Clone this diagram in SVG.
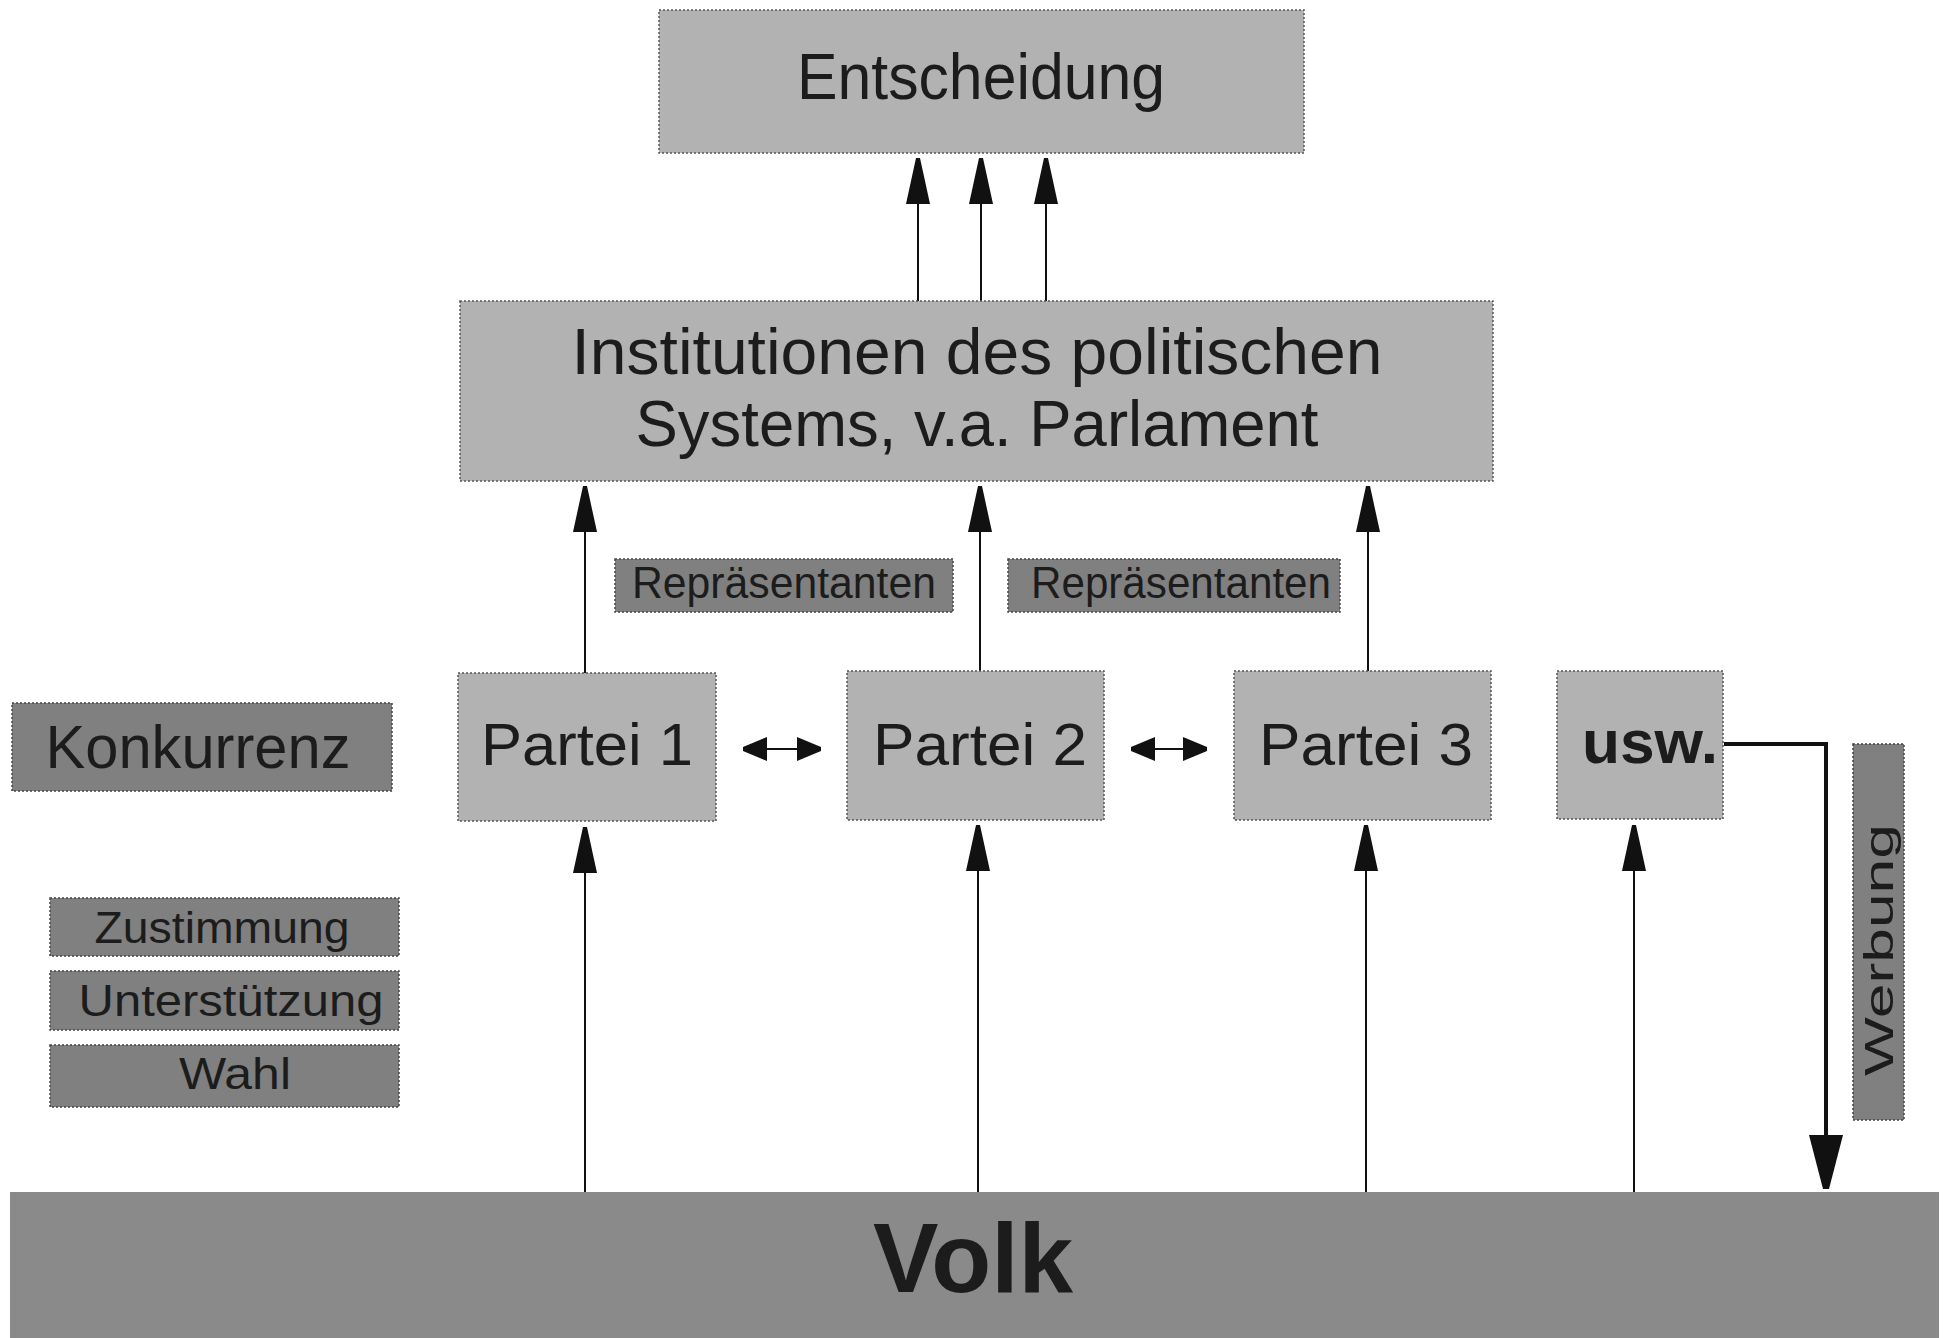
<svg xmlns="http://www.w3.org/2000/svg" width="1945" height="1338" viewBox="0 0 1945 1338">
  <style>
    .light { fill: #b2b2b2; stroke: #555; stroke-width: 1.5; stroke-dasharray: 2 2; }
    .dark { fill: #808080; stroke: #444; stroke-width: 1.5; stroke-dasharray: 2 2; }
    .volk { fill: #8a8a8a; }
    .t { font-family: "Liberation Sans", Arial, sans-serif; fill: #1c1c1c; text-anchor: middle; }
    .b { font-weight: bold; }
    .ln { stroke: #111; stroke-width: 2; fill: none; }
    .lnb { stroke: #111; stroke-width: 4; fill: none; }
  </style>
  <defs>
    <marker id="arr" viewBox="0 0 46 24" refX="46" refY="12" markerWidth="46" markerHeight="24" markerUnits="userSpaceOnUse" orient="auto">
      <path d="M0,0 L46,10 L46,14 L0,24 Z" fill="#111"/>
    </marker>
    <marker id="arrs" viewBox="0 0 24 24" refX="24" refY="12" markerWidth="24" markerHeight="24" markerUnits="userSpaceOnUse" orient="auto-start-reverse">
      <path d="M0,0 L24,10 L24,14 L0,24 Z" fill="#111"/>
    </marker>
    <marker id="arrb" viewBox="0 0 54 34" refX="54" refY="17" markerWidth="54" markerHeight="34" markerUnits="userSpaceOnUse" orient="auto">
      <path d="M0,0 L54,14 L54,20 L0,34 Z" fill="#111"/>
    </marker>
  </defs>
  <rect width="1945" height="1338" fill="#ffffff"/>

  <g id="connectors">
    <line class="ln" x1="918" y1="302" x2="918" y2="158" marker-end="url(#arr)"/>
    <line class="ln" x1="981" y1="302" x2="981" y2="158" marker-end="url(#arr)"/>
    <line class="ln" x1="1046" y1="302" x2="1046" y2="158" marker-end="url(#arr)"/>
    <line class="ln" x1="585" y1="673" x2="585" y2="486" marker-end="url(#arr)"/>
    <line class="ln" x1="980" y1="671" x2="980" y2="486" marker-end="url(#arr)"/>
    <line class="ln" x1="1368" y1="671" x2="1368" y2="486" marker-end="url(#arr)"/>
    <line class="ln" x1="585" y1="1192" x2="585" y2="827" marker-end="url(#arr)"/>
    <line class="ln" x1="978" y1="1192" x2="978" y2="825" marker-end="url(#arr)"/>
    <line class="ln" x1="1366" y1="1192" x2="1366" y2="825" marker-end="url(#arr)"/>
    <line class="ln" x1="1634" y1="1192" x2="1634" y2="825" marker-end="url(#arr)"/>
    <line class="ln" x1="743" y1="749" x2="821" y2="749" marker-start="url(#arrs)" marker-end="url(#arrs)"/>
    <line class="ln" x1="1131" y1="749" x2="1207" y2="749" marker-start="url(#arrs)" marker-end="url(#arrs)"/>
    <polyline class="lnb" points="1724,744 1826,744 1826,1189" marker-end="url(#arrb)"/>
  </g>

  <g id="entscheidung">
    <rect class="light" x="659" y="10" width="645" height="143"/>
    <text class="t" x="981" y="99" font-size="64" textLength="368" lengthAdjust="spacingAndGlyphs">Entscheidung</text>
  </g>

  <g id="institutionen">
    <rect class="light" x="460" y="301" width="1033" height="180"/>
    <text class="t" x="977" y="374" font-size="64" textLength="811" lengthAdjust="spacingAndGlyphs">Institutionen des politischen</text>
    <text class="t" x="977" y="446" font-size="64" textLength="683" lengthAdjust="spacingAndGlyphs">Systems, v.a. Parlament</text>
  </g>

  <g id="repraesentanten1">
    <rect class="dark" x="615" y="559" width="338" height="53"/>
    <text class="t" x="784" y="598" font-size="44" textLength="304" lengthAdjust="spacingAndGlyphs">Repräsentanten</text>
  </g>
  <g id="repraesentanten2">
    <rect class="dark" x="1008" y="559" width="332" height="53"/>
    <text class="t" x="1181" y="598" font-size="44" textLength="300" lengthAdjust="spacingAndGlyphs">Repräsentanten</text>
  </g>

  <g id="konkurrenz">
    <rect class="dark" x="12" y="703" width="380" height="88"/>
    <text class="t" x="198" y="768" font-size="62" textLength="305" lengthAdjust="spacingAndGlyphs">Konkurrenz</text>
  </g>

  <g id="partei1">
    <rect class="light" x="458" y="673" width="258" height="148"/>
    <text class="t" x="587" y="765" font-size="60" textLength="212" lengthAdjust="spacingAndGlyphs">Partei 1</text>
  </g>
  <g id="partei2">
    <rect class="light" x="847" y="671" width="257" height="149"/>
    <text class="t" x="980" y="765" font-size="60" textLength="214" lengthAdjust="spacingAndGlyphs">Partei 2</text>
  </g>
  <g id="partei3">
    <rect class="light" x="1234" y="671" width="257" height="149"/>
    <text class="t" x="1366" y="765" font-size="60" textLength="214" lengthAdjust="spacingAndGlyphs">Partei 3</text>
  </g>
  <g id="usw">
    <rect class="light" x="1557" y="671" width="166" height="148"/>
    <text class="t b" x="1650" y="763" font-size="62" textLength="136" lengthAdjust="spacingAndGlyphs">usw.</text>
  </g>

  <g id="zustimmung">
    <rect class="dark" x="50" y="898" width="349" height="58"/>
    <text class="t" x="222" y="943" font-size="45" textLength="255" lengthAdjust="spacingAndGlyphs">Zustimmung</text>
  </g>
  <g id="unterstuetzung">
    <rect class="dark" x="50" y="971" width="349" height="59"/>
    <text class="t" x="231" y="1016" font-size="45" textLength="305" lengthAdjust="spacingAndGlyphs">Unterstützung</text>
  </g>
  <g id="wahl">
    <rect class="dark" x="50" y="1045" width="349" height="62"/>
    <text class="t" x="235" y="1089" font-size="45" textLength="112" lengthAdjust="spacingAndGlyphs">Wahl</text>
  </g>

  <g id="werbung">
    <rect class="dark" x="1853" y="744" width="51" height="376"/>
    <text class="t" x="1879" y="964" font-size="40" textLength="252" lengthAdjust="spacingAndGlyphs" transform="rotate(-90 1879 950)">Werbung</text>
  </g>

  <g id="volk">
    <rect class="volk" x="10" y="1192" width="1929" height="146"/>
    <text class="t b" x="973" y="1292" font-size="98" textLength="200" lengthAdjust="spacingAndGlyphs">Volk</text>
  </g>
</svg>
